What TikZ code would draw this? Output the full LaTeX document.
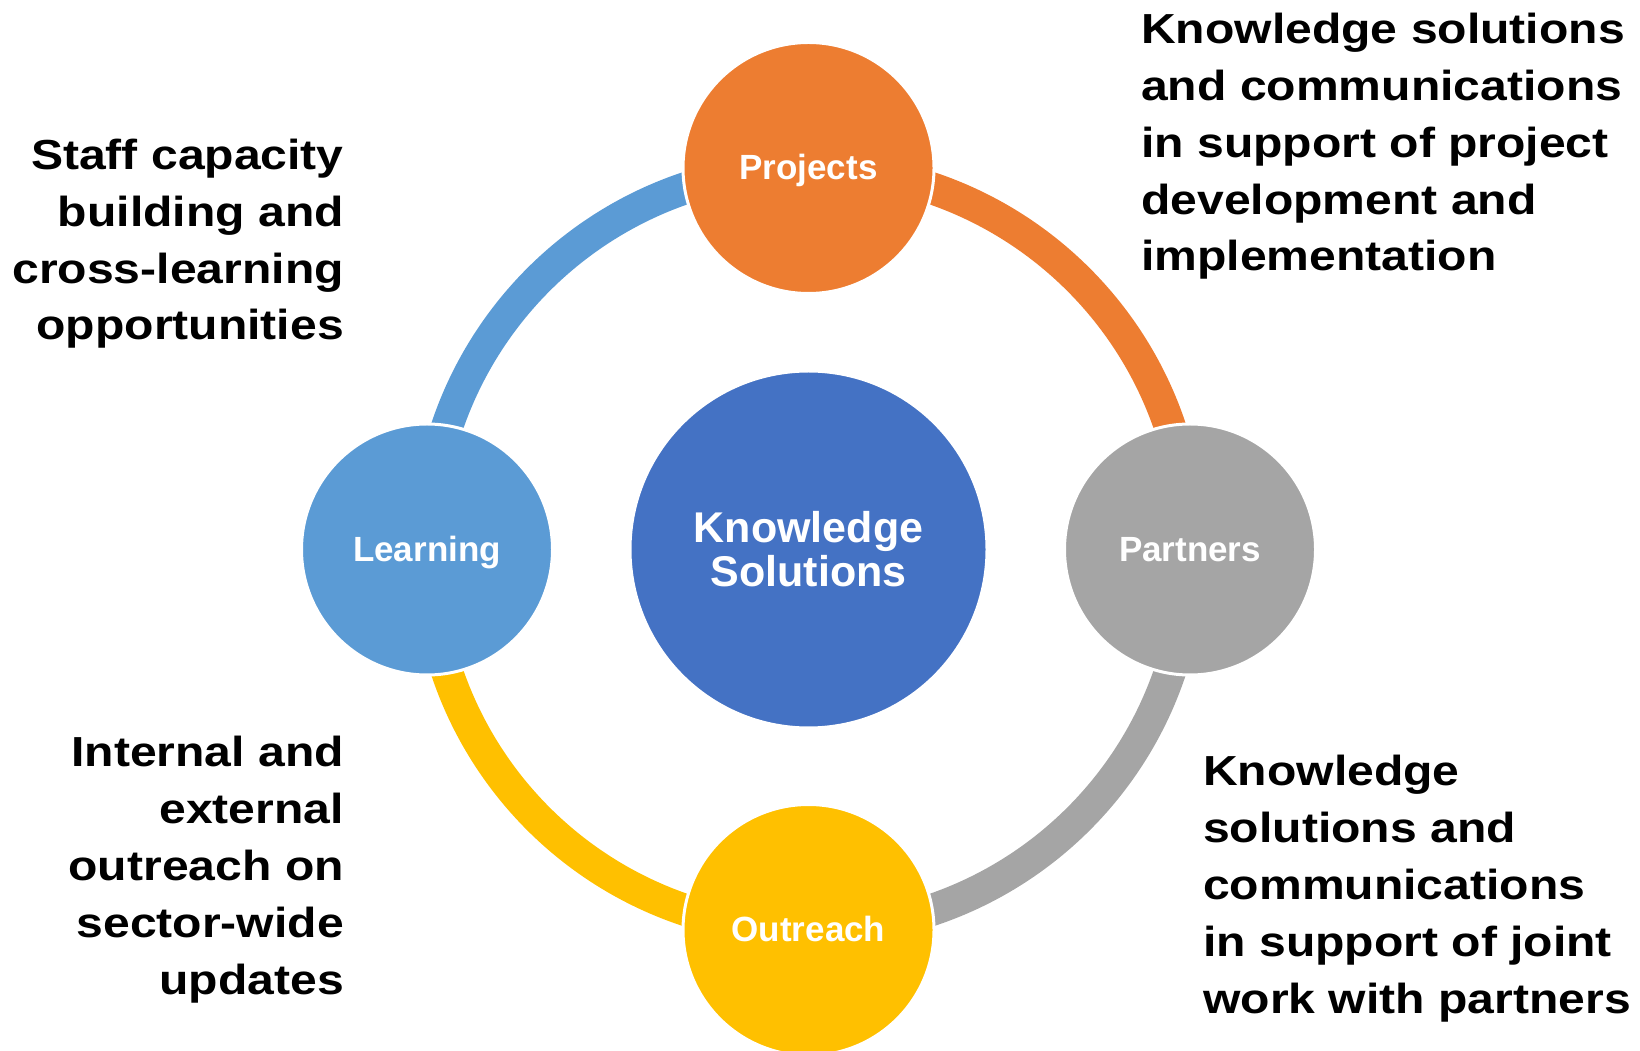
\documentclass[tikz,border=0pt]{standalone}
\usepackage{fontspec}
\setmainfont{Liberation Sans}
\newfontfamily\widefont{Liberation Sans}[FakeStretch=1.145]
\usetikzlibrary{backgrounds}

\definecolor{kshub}{HTML}{4472C4}
\definecolor{ksorange}{HTML}{ED7D31}
\definecolor{ksgrey}{HTML}{A5A5A5}
\definecolor{ksgold}{HTML}{FFC000}
\definecolor{kslblue}{HTML}{5B9BD5}

\tikzset{
  hub/.style={circle, fill=kshub, draw=white, line width=3pt,
    minimum size=357pt, text=white, align=center,
    font=\fontsize{43}{44}\selectfont\bfseries},
  spoke/.style={circle, draw=white, line width=3pt, minimum size=251pt,
    text=white, text height=25pt, text depth=1.5pt,
    font=\fontsize{35}{40}\selectfont\bfseries},
  ring/.style={line width=32pt},
  note/.style={inner sep=0pt, font=\widefont\fontsize{42}{56.8}\selectfont\bfseries}
}

\begin{document}
\begin{tikzpicture}[x=1pt,y=1pt]
  \useasboundingbox (0,0) rectangle (1640,1050);

  \node[hub] (ks) at (808.5,500.5) {Knowledge\\Solutions};
  \node[spoke, fill=ksorange] (proj) at (808.5,882) {Projects};
  \node[spoke, fill=ksgrey]   (part) at (1190,500.5) {Partners};
  \node[spoke, fill=ksgold]   (outr) at (808.5,120) {Outreach};
  \node[spoke, fill=kslblue]  (lern) at (427,500.5) {Learning};

  % ring pieces, under the circles
  \begin{scope}[on background layer]
    \foreach \a/\b/\c in {proj/part/ksorange, part/outr/ksgrey,
                          outr/lern/ksgold, lern/proj/kslblue}
      \draw[ring, \c] (\a.center) to[bend left=45] (\b.center);
  \end{scope}

  % base anchor sits on the last line
  \node[note, anchor=base west, align=left] (projtxt) at (1141,779)
    {Knowledge solutions\\and communications\\in support of project\\development and\\implementation};
  \node[note, anchor=base east, align=right] (lerntxt) at (344,710)
    {Staff capacity\\building and\\cross-learning\\opportunities};
  \node[note, anchor=base east, align=right] (outrtxt) at (344,56)
    {Internal and\\external\\outreach on\\sector-wide\\updates};
  \node[note, anchor=base west, align=left] (parttxt) at (1203,37)
    {Knowledge\\solutions and\\communications\\in support of joint\\work with partners};
\end{tikzpicture}
\end{document}
